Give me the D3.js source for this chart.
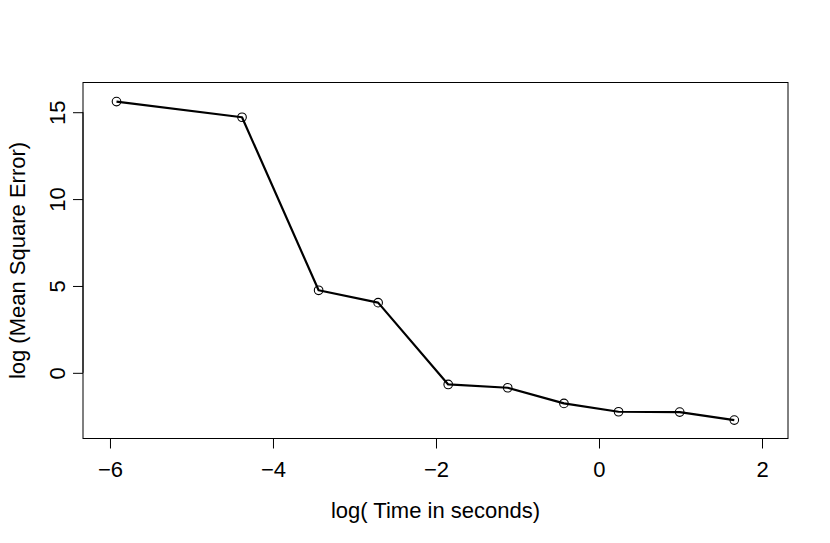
<!DOCTYPE html>
<html>
<head>
<meta charset="utf-8">
<script src="https://cdn.jsdelivr.net/npm/d3@7/dist/d3.min.js"></script>
<style>
  html, body { margin: 0; padding: 0; background: #fff; }
  svg { display: block; }
  text { font-family: "Liberation Sans", Arial, Helvetica, sans-serif; fill: #000; }
</style>
</head>
<body>
<svg id="chart" width="830" height="543"></svg>
<script>
// Data
const logTime = [-5.92, -4.38, -3.44, -2.71, -1.85, -1.12, -0.43, 0.24, 0.99, 1.66];
const logMSE  = [15.61, 14.71, 4.75, 4.04, -0.67, -0.86, -1.76, -2.24, -2.26, -2.72];
const xTicks = [-6, -4, -2, 0, 2];
const yTicks = [0, 5, 10, 15];
const xTitle = "log( Time in seconds)";
const yTitle = "log (Mean Square Error)";

const svg = d3.select("#chart");
const box = { left: 83, right: 788, top: 82.5, bottom: 438.5 };
const fontSize = 22;

const x = d3.scaleLinear().domain([-6.331, 2.319]).range([box.left, box.right]);
const y = d3.scaleLinear().domain([-3.78, 16.71]).range([box.bottom, box.top]);

const fmt = d => d < 0 ? "\u2212" + Math.abs(d) : String(d);

// x axis
const xAxis = d3.axisBottom(x).tickValues(xTicks).tickSize(10).tickPadding(5).tickFormat(fmt);
const gx = svg.append("g").attr("transform", `translate(0,${box.bottom})`).call(xAxis);
gx.select(".domain").attr("d", `M${x(xTicks[0])},0H${x(xTicks[xTicks.length-1])}`).attr("stroke", "#000");
gx.selectAll(".tick line").attr("stroke", "#000");
gx.selectAll("text").attr("font-size", fontSize).attr("font-family", null).attr("dy", null).attr("y", 38);

// y axis
const yAxis = d3.axisLeft(y).tickValues(yTicks).tickSize(10).tickFormat(fmt);
const gy = svg.append("g").attr("transform", `translate(${box.left},0)`).call(yAxis);
gy.select(".domain").attr("d", `M0,${y(yTicks[0])}V${y(yTicks[yTicks.length-1])}`).attr("stroke", "#000");
gy.selectAll(".tick line").attr("stroke", "#000");
gy.selectAll(".tick text")
  .attr("font-size", fontSize).attr("font-family", null)
  .attr("x", null).attr("dy", null).attr("text-anchor", "middle")
  .attr("transform", "translate(-18,0) rotate(-90)");

// box
svg.append("rect")
  .attr("x", box.left).attr("y", box.top)
  .attr("width", box.right - box.left).attr("height", box.bottom - box.top)
  .attr("fill", "none").attr("stroke", "#000").attr("stroke-width", 1);

// line
const pts = logTime.map((t, i) => [t, logMSE[i]]);
svg.append("path")
  .datum(pts)
  .attr("fill", "none").attr("stroke", "#000").attr("stroke-width", 2.2)
  .attr("stroke-linejoin", "round")
  .attr("d", d3.line().x(d => x(d[0])).y(d => y(d[1])));

svg.append("g").selectAll("circle").data(pts).join("circle")
  .attr("cx", d => x(d[0])).attr("cy", d => y(d[1])).attr("r", 4.3)
  .attr("fill", "none").attr("stroke", "#000").attr("stroke-width", 1.1);

// titles
svg.append("text")
  .attr("x", (box.left + box.right) / 2).attr("y", 518)
  .attr("text-anchor", "middle").attr("font-size", fontSize)
  .text(xTitle);

svg.append("text")
  .attr("transform", `translate(25,${(box.top + box.bottom) / 2}) rotate(-90)`)
  .attr("text-anchor", "middle").attr("font-size", fontSize)
  .text(yTitle);
</script>
</body>
</html>
